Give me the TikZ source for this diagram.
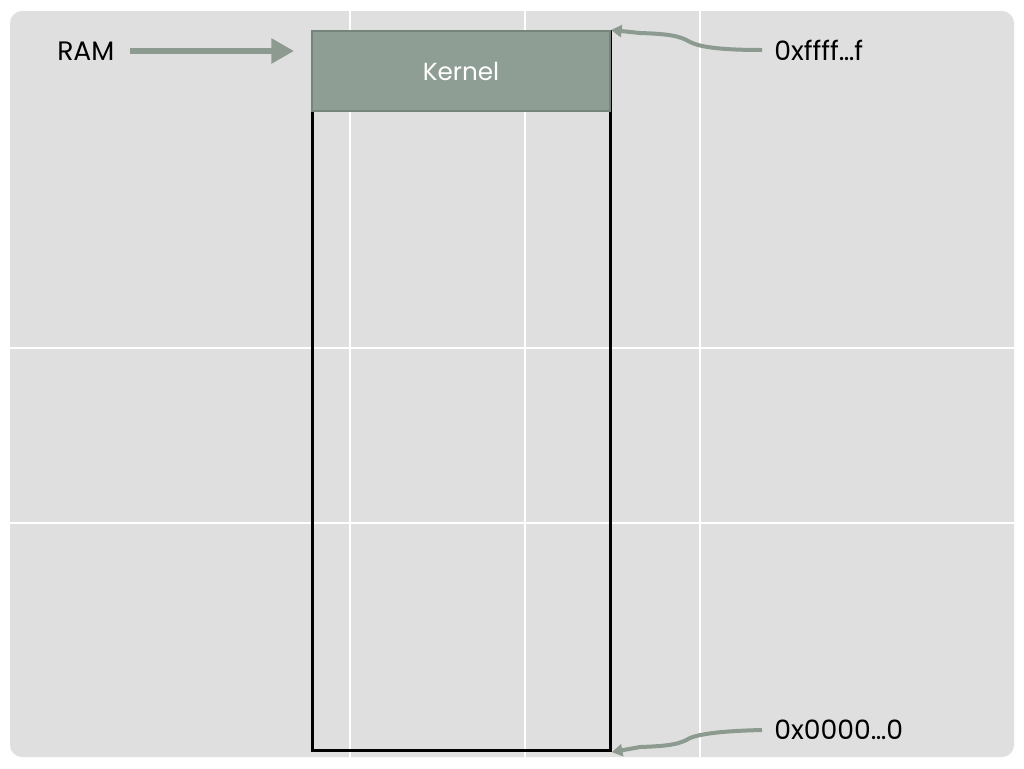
\documentclass[tikz,border=0pt]{standalone}
\usepackage{fontspec}
\setmainfont{Poppins}
\usetikzlibrary{arrows.meta}
\definecolor{bggray}{HTML}{DFDFDF}
\definecolor{sage}{HTML}{8F9E94}
\definecolor{sageedge}{HTML}{75857B}
\definecolor{arrowc}{HTML}{8C9A90}
\tikzset{
  gridline/.style={white, line width=1pt},
  lbl/.style={font=\fontsize{20}{22}\selectfont, text=black, inner sep=0pt},
  bigarrow/.style={arrowc, line width=4.5pt, -{Triangle[length=17pt,width=18pt]}},
  curvarrow/.style={arrowc, line width=3pt, -{Triangle[length=8pt,width=9pt]}},
}
\begin{document}
\begin{tikzpicture}[x=0.75pt,y=-0.75pt]
\useasboundingbox (0,0) rectangle (1024,768);
\fill[white] (0,0) rectangle (1024,768);
\fill[bggray, rounded corners=9pt] (10,11) rectangle (1014,757);
\foreach \gx in {350,525,700} \draw[gridline] (\gx,11) -- (\gx,757);
\foreach \gy in {348,523} \draw[gridline] (10,\gy) -- (1014,\gy);
% RAM box
\node[draw=black, line width=2.1pt, inner sep=0pt,
      anchor=north west, minimum width=223.5pt, minimum height=539.5pt] (ram) at (311,30) {};
\node[fill=sage, draw=sageedge, line width=1.5pt, anchor=north west, inner sep=0pt,
      minimum width=223.5pt, minimum height=60pt, text=white,
      font=\fontsize{18.5}{20}\selectfont] (kernel) at (311,30) {Kernel};
% labels
\node[lbl, anchor=west] (ramlbl) at (57,51) {RAM};
\node[lbl, anchor=west] (top) at (774,50) {0xffff…f};
\node[lbl, anchor=west] (bot) at (774,730) {0x0000…0};
\coordinate (ramtip) at (294,51);
\draw[bigarrow] (ramlbl.east) ++(15,0) -- (ramtip);
\draw[curvarrow] (top.west) ++(-12,0) .. controls (720,50) and (700,47) .. (690,42)
  .. controls (680,36) and (670,34) .. (640,33) -- (kernel.north east);
\draw[curvarrow] (bot.west) ++(-12,0) .. controls (720,731) and (700,734) .. (690,738)
  .. controls (680,744) and (670,746) .. (640,747) -- (ram.south east);
\end{tikzpicture}
\end{document}
